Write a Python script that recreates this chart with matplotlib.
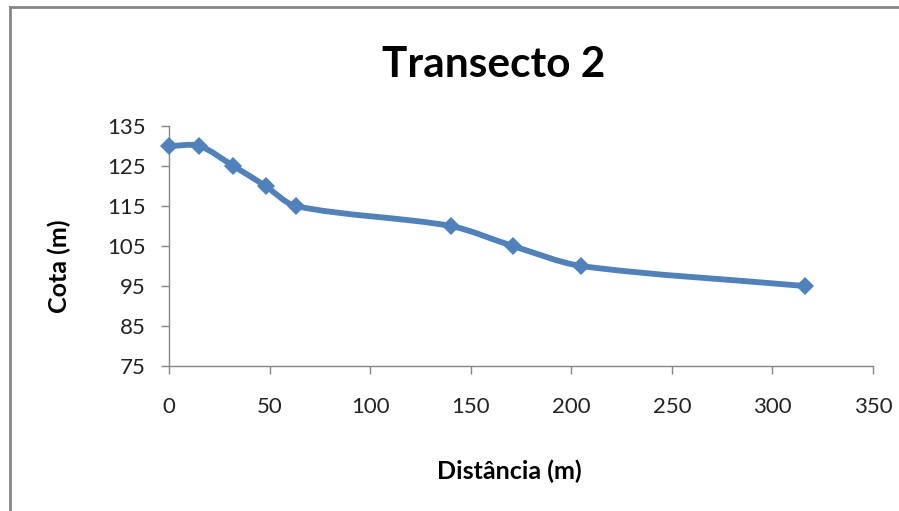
import numpy as np
import matplotlib.pyplot as plt
from matplotlib.path import Path
from matplotlib.patches import PathPatch
from matplotlib.lines import Line2D

plt.rcParams['font.family'] = ['Lato', 'DejaVu Sans']

# Transecto 2 profile
distancia = [0, 15, 32, 48, 63, 140, 171, 205, 316]
cota = [130, 130, 125, 120, 115, 110, 105, 100, 95]

xticks = [0, 50, 100, 150, 200, 250, 300, 350]
yticks = [75, 85, 95, 105, 115, 125, 135]

blue = '#4F81BD'
gray = '#868686'


def smooth_path(ax, xs, ys, t=0.3):
    # smoothed line through every point, built in screen space so the
    # curve does not depend on the axis units, then mapped back to data
    p = ax.transData.transform(np.column_stack([xs, ys]).astype(float))
    n = len(p)
    tang = np.zeros_like(p)
    for i in range(n):
        d = p[min(i + 1, n - 1)] - p[max(i - 1, 0)]
        tang[i] = d / np.hypot(*d)
    verts = [p[0]]
    codes = [Path.MOVETO]
    for i in range(n - 1):
        L = np.hypot(*(p[i + 1] - p[i]))
        verts += [p[i] + tang[i] * L * t,
                  p[i + 1] - tang[i + 1] * L * t,
                  p[i + 1]]
        codes += [Path.CURVE4] * 3
    verts = ax.transData.inverted().transform(np.array(verts))
    return Path(verts, codes)


fig = plt.figure(figsize=(8.99, 5.11), dpi=100)
W, H = 899, 511

# chart area border (left and top edges are the only ones in frame)
fig.lines.append(Line2D([9.5 / W, 9.5 / W], [0, 1 - 7.5 / H],
                        transform=fig.transFigure, color=gray, lw=2.0))
fig.lines.append(Line2D([9.5 / W, 1], [1 - 7.5 / H, 1 - 7.5 / H],
                        transform=fig.transFigure, color=gray, lw=2.0))

ax = fig.add_axes([169 / W, 1 - 366 / H, 704 / W, 240 / H])
ax.set_xlim(0, 350)
ax.set_ylim(75, 135)

ax.add_patch(PathPatch(smooth_path(ax, distancia, cota), transform=ax.transData,
                       fill=False, edgecolor=blue, linewidth=4.2,
                       capstyle='round', joinstyle='round', zorder=3))
ax.plot(distancia, cota, linestyle='none', marker='D', markersize=9,
        color=blue, markeredgewidth=0, zorder=4, clip_on=False)

ax.set_xticks(xticks)
ax.set_yticks(yticks)
ax.spines['top'].set_visible(False)
ax.spines['right'].set_visible(False)
for s in ['left', 'bottom']:
    ax.spines[s].set_color(gray)
    ax.spines[s].set_linewidth(1.0)
ax.tick_params(axis='both', direction='out', length=5.5, width=1.0,
               color=gray, labelsize=16, labelcolor='#222222')
ax.tick_params(axis='x', pad=17)
ax.tick_params(axis='y', pad=11)

fig.text(494 / W, 1 - 77 / H, 'Transecto 2', ha='center', va='baseline',
         fontsize=30.5, fontweight='bold', color='black')
fig.text(509 / W, 1 - 479 / H, 'Distância (m)', ha='center', va='baseline',
         fontsize=18, fontweight='bold', color='black')
fig.text(59 / W, 1 - 266 / H, 'Cota (m)', ha='center', va='center',
         rotation=90, fontsize=18, fontweight='bold', color='black')

fig.savefig('out.png', dpi=100)
